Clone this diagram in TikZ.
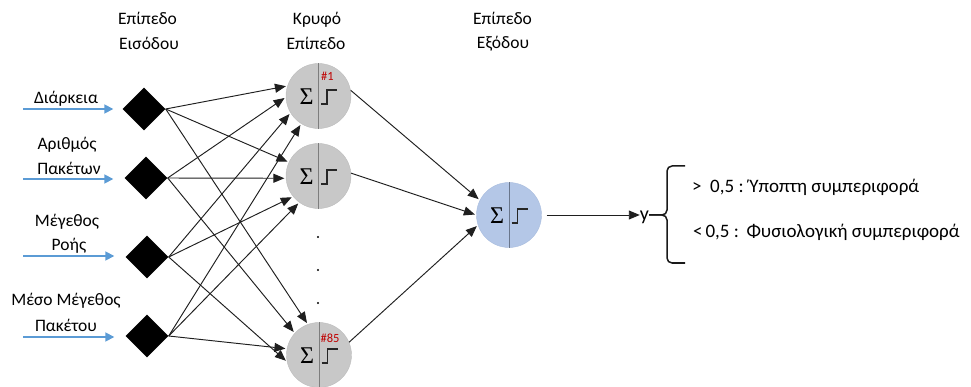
\documentclass[tikz,border=0pt]{standalone}
\usepackage{fontspec}
\setmainfont{Carlito}
\newfontfamily\sigmafont{Liberation Serif}
\usetikzlibrary{arrows.meta,shapes.geometric}

\definecolor{inblue}{RGB}{91,155,213}
\definecolor{hidfill}{RGB}{200,200,200}
\definecolor{hidedge}{RGB}{188,188,188}
\definecolor{outfill}{RGB}{180,199,231}
\definecolor{outedge}{RGB}{168,188,222}
\definecolor{hiddiv}{RGB}{125,125,125}
\definecolor{outdiv}{RGB}{105,118,140}
\definecolor{tagred}{RGB}{192,0,0}

\tikzset{
  lbl/.style={font=\fontsize{17.5}{20}\selectfont, inner sep=0pt, anchor=base},
  biglbl/.style={font=\fontsize{19}{22}\selectfont, inner sep=0pt, anchor=base west},
  tag/.style={font=\fontsize{12.5}{13}\selectfont, text=tagred, inner sep=0pt, anchor=base},
  inputnode/.style={diamond, shape aspect=1, fill=black, minimum width=43pt, minimum height=43pt, inner sep=0pt},
  neuron/.style={circle, minimum size=65pt, inner sep=0pt},
  sigma/.style={font=\sigmafont\fontsize{24}{24}\selectfont, inner sep=0pt},
  stepline/.style={draw=black!85, line width=1.6pt, line join=miter},
  conn/.style={draw=black!88, line width=0.95pt, -{Triangle[length=11pt,width=9pt]}, shorten >=1.5pt},
  inarrow/.style={draw=inblue, line width=1.7pt, -{Triangle[length=9pt,width=9pt]}},
  bracestyle/.style={draw=black!90, line width=1.5pt, rounded corners=5pt},
  dotmark/.style={circle, fill=black, minimum size=2.2pt, inner sep=0pt},
}

% neuron: name, centre, fill, outline, divider colour
\newcommand\drawneuron[5]{%
  \node[neuron, fill=#3, draw=#4] (#1) at (#2) {};
  \draw[draw=#5, line width=1pt] (#1.north) -- (#1.south);
  \node[sigma] (#1-sig) at ([xshift=-12pt,yshift=-1pt]#1.center) {Σ};
  \draw[stepline] ([xshift=2.5pt,yshift=-8pt]#1.center) -- ++(6,0) -- ++(0,-14) -- ++(10,0);
}

\begin{document}
\begin{tikzpicture}[x=1pt,y=-1pt]
\useasboundingbox (0,0) rectangle (971,387);

% layer headings
\node[lbl] (hin1) at (147.5,25) {Επίπεδο};
\node[lbl] (hin2) at (149,50) {Εισόδου};
\node[lbl] (hhid1) at (317,25) {Κρυφό};
\node[lbl] (hhid2) at (316,50) {Επίπεδο};
\node[lbl] (hout1) at (502.5,25) {Επίπεδο};
\node[lbl] (hout2) at (503,49) {Εξόδου};

% input features
\node[lbl] (t1) at (66,104) {Διάρκεια};
\node[lbl] (t2a) at (67,150) {Αριθμός};
\node[lbl] (t2b) at (69,175) {Πακέτων};
\node[lbl] (t3a) at (67,227) {Μέγεθος};
\node[lbl] (t3b) at (69,251) {Ροής};
\node[lbl] (t4a) at (66,305) {Μέσο Μέγεθος};
\node[lbl] (t4b) at (66,331) {Πακέτου};

% input layer
\node[inputnode] (d1) at (144,109) {};
\node[inputnode] (d2) at (146,178) {};
\node[inputnode] (d3) at (147,257) {};
\node[inputnode] (d4) at (147,336) {};

\coordinate (s1) at (23,109);
\coordinate (s2) at (23,179);
\coordinate (s3) at (23,256);
\coordinate (s4) at (23,337);
\draw[inarrow] (s1) -- ([xshift=-9pt]d1.west);
\draw[inarrow] (s2) -- ([xshift=-11pt]d2.west |- s2);
\draw[inarrow] (s3) -- ([xshift=-11pt]d3.west |- s3);
\draw[inarrow] (s4) -- ([xshift=-11pt]d4.west |- s4);

% hidden layer
\drawneuron{h1}{318.5,96}{hidfill}{hidedge}{hiddiv}
\drawneuron{h2}{318.5,176}{hidfill}{hidedge}{hiddiv}
\drawneuron{h85}{319,355}{hidfill}{hidedge}{hiddiv}
\node[tag] (tag1) at (327.5,80.5) {\#1};
\node[tag] (tag85) at (330,342.5) {\#85};

\node[dotmark] (v1) at (318,237) {};
\node[dotmark] (v2) at (318,270) {};
\node[dotmark] (v3) at (318,303) {};

% output layer
\drawneuron{out}{509,215}{outfill}{outedge}{outdiv}

% input -> hidden
\draw[conn] (d1.east) -- (h1.162);
\draw[conn] (d2.east) -- (h1.182);
\draw[conn] (d3.east) -- (h1.211);
\draw[conn] (d4.east) -- (h1.238);
\draw[conn] (d1.east) -- (h2.155);
\draw[conn] (d2.east) -- (h2.184);
\draw[conn] (d3.east) -- (h2.219);
\draw[conn] (d4.east) -- (h2.234);
\draw[conn] (d1.east) -- (h85.110);
\draw[conn] (d2.east) -- (h85.138);
\draw[conn] (d4.east) -- (h85.169);
\draw[conn] (d3.east) -- (h85.192);

% hidden -> output
\draw[conn] (h1.10) -- (out.153);
\draw[conn] (h2.5) -- (out.180);
\draw[conn] (h85.23) -- (out.198);

% result and decision brace
\node[font=\fontsize{20}{22}\selectfont, inner sep=0pt, anchor=base] (ylab) at (644.5,221) {y};
\draw[conn, shorten >=0pt] ([xshift=5pt]out.east) -- (ylab.west |- out.center);
\coordinate (bt) at (667,215);
\draw[bracestyle] (685,166) -- (667,166) -- (bt) -- (ylab.east |- bt);
\draw[bracestyle] (685,263) -- (667,263) -- (bt) -- (ylab.east |- bt);

\node[biglbl] (r1) at (692,193) {>\hspace{0.45em}0,5 : Ύποπτη συμπεριφορά};
\node[biglbl] (r2) at (693,238) {<\hspace{0.15em}0,5 :\hspace{0.1em} Φυσιολογική συμπεριφορά};
\end{tikzpicture}
\end{document}
